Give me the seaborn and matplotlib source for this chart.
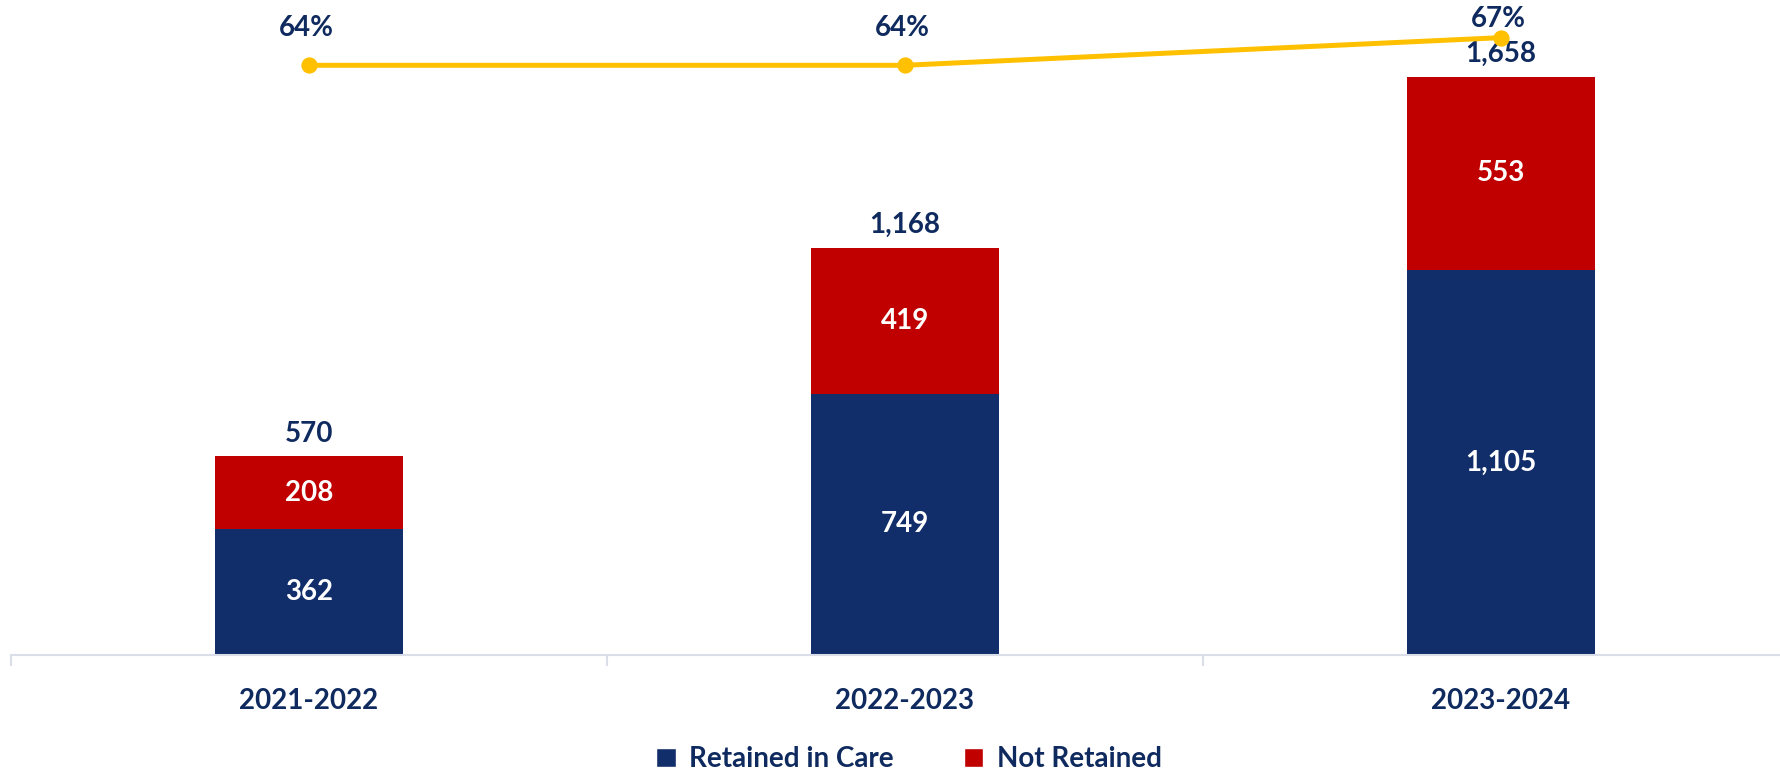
import numpy as np
import pandas as pd
import matplotlib
matplotlib.use('Agg')
import matplotlib.pyplot as plt
import seaborn as sns
from matplotlib.patches import Patch

sns.set_style('white')
plt.rcParams['font.family'] = ['Lato', 'DejaVu Sans']

years = ['2021-2022', '2022-2023', '2023-2024']
retained = [362, 749, 1105]
not_retained = [208, 419, 553]
totals = [570, 1168, 1658]
pct_retained = [0.64, 0.64, 0.67]

navy = '#112E6B'
red = '#C00000'
gold = '#FFC000'
txt = '#0F2A5E'
axis_grey = '#D9DEE8'
fs = 20

df = pd.DataFrame({'year': years, 'retained': retained,
                   'not_retained': not_retained, 'total': totals,
                   'pct': pct_retained})

fig = plt.figure(figsize=(17.81, 7.74), dpi=100)
ax = fig.add_axes([11 / 1781, 119 / 774, 1788 / 1781, 645 / 774])

# stacked bars: total in red, retained drawn over it
sns.barplot(data=df, x='year', y='total', color=red, width=0.314,
            saturation=1, linewidth=0, edgecolor='none', ax=ax)
sns.barplot(data=df, x='year', y='retained', color=navy, width=0.314,
            saturation=1, linewidth=0, edgecolor='none', ax=ax)

for i, row in df.iterrows():
    ax.text(i, row['retained'] / 2, f"{row['retained']:,}", ha='center', va='center',
            color='white', fontsize=fs, fontweight='bold')
    ax.text(i, row['retained'] + row['not_retained'] / 2, f"{row['not_retained']:,}",
            ha='center', va='center', color='white', fontsize=fs, fontweight='bold')
    ax.text(i, row['total'] + 28, f"{row['total']:,}", ha='center', va='bottom',
            color=txt, fontsize=fs, fontweight='bold')

# retention rate line on secondary axis
ax2 = ax.twinx()
sns.pointplot(data=df, x='year', y='pct', color=gold, ax=ax2,
              markers='o', markersize=9, linewidth=3.6)
ax2.set_ylim(0, 0.70)
ax2.set_yticks([])
ax2.set_ylabel('')
ax2.set_xlabel('')
for s in ['top', 'right', 'left', 'bottom']:
    ax2.spines[s].set_visible(False)
for i, row in df.iterrows():
    ax2.text(i - 0.005, min(row['pct'] + 0.04, 0.69), f"{row['pct']:.0%}", ha='center',
             va='center', color=txt, fontsize=fs, fontweight='bold')

ax.set_ylim(0, 1850)
ax.set_xlim(-0.5, 2.5)
ax.set_yticks([])
ax.set_xlabel('')
ax.set_ylabel('')
for s in ['top', 'right', 'left']:
    ax.spines[s].set_visible(False)
ax.spines['bottom'].set_color(axis_grey)
ax.spines['bottom'].set_linewidth(1.5)
ax.set_xticks([0, 1, 2])
ax.set_xticklabels(years, fontsize=fs, fontweight='bold', color=txt)
ax.tick_params(axis='x', which='major', length=0, pad=24)
ax.set_xticks([-0.5, 0.5, 1.5, 2.5], minor=True)
ax.tick_params(axis='x', which='minor', bottom=True, length=8, width=1.5, color=axis_grey)

handles = [Patch(facecolor=navy, label='Retained in Care'),
           Patch(facecolor=red, label='Not Retained')]
fig.legend(handles=handles, loc='center', bbox_to_anchor=(909 / 1781, 1 - 759 / 774),
           ncol=2, frameon=False, handlelength=0.7, handleheight=0.7,
           columnspacing=2.5, handletextpad=0.5,
           prop={'family': ['Lato', 'DejaVu Sans'], 'weight': 'bold', 'size': fs},
           labelcolor=txt)

fig.savefig('out.png', dpi=100)
